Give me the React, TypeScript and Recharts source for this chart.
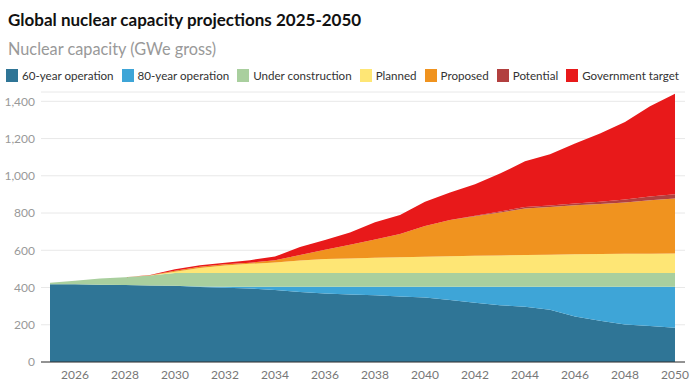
import { AreaChart, Area, XAxis, YAxis, CartesianGrid } from "recharts";

const years = [
  2025, 2026, 2027, 2028, 2029, 2030, 2031, 2032, 2033, 2034, 2035, 2036, 2037,
  2038, 2039, 2040, 2041, 2042, 2043, 2044, 2045, 2046, 2047, 2048, 2049, 2050,
];

// GWe gross, per scenario layer (stacked)
const sixtyYear = [418, 417, 415, 413, 411, 409, 403, 399, 395, 386, 376, 368, 362, 359, 352, 347, 333, 318, 305, 297, 280, 245, 222, 202, 193, 184];
const eightyYear = [0, 0, 0, 0, 0, 0, 2, 5, 9, 18, 28, 36, 42, 45, 52, 57, 71, 86, 99, 107, 124, 159, 182, 202, 211, 220];
const underConstruction = [8, 20, 34, 42, 53, 69, 73, 74, 74, 74, 74, 74, 74, 74, 74, 74, 74, 74, 74, 74, 74, 74, 74, 74, 74, 74];
const planned = [0, 0, 0, 0, 1, 7, 27, 40, 49, 57, 67, 75, 78, 82, 84, 87, 90, 92, 94, 96, 98, 100, 102, 103, 104, 105];
const proposed = [0, 0, 0, 0, 1, 5, 7, 7, 6, 12, 29, 50, 74, 98, 125, 166, 194, 213, 231, 250, 257, 264, 268, 276, 287, 295];
const potential = [0, 0, 0, 0, 0, 0, 0, 0, 0, 0, 0, 0, 0, 0, 0, 0, 1, 3, 5, 8, 8, 9, 12, 16, 20, 23];
const governmentTarget = [0, 0, 0, 0, 1, 8, 8, 8, 14, 19, 44, 52, 65, 92, 102, 129, 147, 169, 204, 246, 275, 322, 367, 416, 484, 540];

const xTicks = [2026, 2028, 2030, 2032, 2034, 2036, 2038, 2040, 2042, 2044, 2046, 2048, 2050];
const yTicks = [0, 200, 400, 600, 800, 1000, 1200, 1400];

const SERIES = [
  { key: "sixty", name: "60-year operation", color: "#2f7596", values: sixtyYear },
  { key: "eighty", name: "80-year operation", color: "#3ea5d7", values: eightyYear },
  { key: "uc", name: "Under construction", color: "#a9cf9e", values: underConstruction },
  { key: "planned", name: "Planned", color: "#fee675", values: planned },
  { key: "proposed", name: "Proposed", color: "#f0931f", values: proposed },
  { key: "potential", name: "Potential", color: "#b2403f", values: potential },
  { key: "target", name: "Government target", color: "#e8191a", values: governmentTarget },
];

const data = years.map((year, i) => {
  const row: Record<string, number> = { year };
  SERIES.forEach((s) => { row[s.key] = s.values[i]; });
  return row;
});

const FONT = "Lato, 'Open Sans', sans-serif";

export default function App() {
  return (
    <div style={{ position: "absolute", left: 0, top: 0, width: 696, height: 385, background: "#fff", fontFamily: FONT }}>
      <div style={{ position: "absolute", left: 8, top: 9, fontSize: 17, fontWeight: 700, color: "#111", whiteSpace: "nowrap" }}>
        Global nuclear capacity projections 2025-2050
      </div>
      <div style={{ position: "absolute", left: 8, top: 39, fontSize: 16.3, color: "#999", whiteSpace: "nowrap" }}>
        Nuclear capacity (GWe gross)
      </div>
      <div style={{ position: "absolute", left: 6, top: 69, width: 690, display: "flex", fontSize: 11.6, color: "#333", whiteSpace: "nowrap" }}>
        {SERIES.map((s) => (
          <div key={s.key} style={{ display: "flex", alignItems: "center", marginRight: 8, flexShrink: 0 }}>
            <span style={{ width: 12, height: 13, background: s.color, marginRight: 4, display: "inline-block" }} />
            <span>{s.name}</span>
          </div>
        ))}
      </div>
      <div style={{ position: "absolute", left: 0, top: 0 }}>
        <AreaChart width={696} height={385} data={data} margin={{ top: 92, right: 11, bottom: 3, left: 0 }}>
          <CartesianGrid vertical={false} stroke="#e8e8e8" />
          <XAxis
            dataKey="year"
            type="number"
            domain={[2025, 2050]}
            ticks={xTicks}
            padding={{ left: 9, right: 10 }}
            tickLine={false}
            axisLine={{ stroke: "#333" }}
            tick={{ fontSize: 12, fill: "#777", fontFamily: FONT }}
            height={20}
          />
          <YAxis
            domain={[0, 1450]}
            ticks={yTicks}
            width={41}
            tickLine={false}
            axisLine={false}
            tickSize={4}
            tickFormatter={(v: number) => v.toLocaleString("en-US")}
            tick={{ fontSize: 12, fill: "#999", fontFamily: FONT }}
          />
          {SERIES.map((s) => (
            <Area
              key={s.key}
              dataKey={s.key}
              name={s.name}
              stackId="1"
              type="linear"
              fill={s.color}
              fillOpacity={1}
              stroke="none"
              isAnimationActive={false}
            />
          ))}
        </AreaChart>
      </div>
    </div>
  );
}
